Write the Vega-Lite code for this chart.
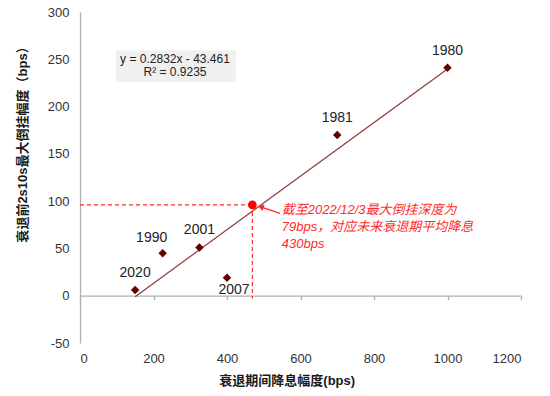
{
  "$schema": "https://vega.github.io/schema/vega-lite/v6.json",
  "width": 441,
  "height": 331,
  "autosize": {"type": "none"},
  "padding": {"left": 80, "top": 12, "right": 29, "bottom": 53},
  "background": "white",
  "config": {
    "view": {"stroke": null},
    "font": "Liberation Sans, Noto Sans CJK SC, sans-serif"
  },
  "datasets": {
    "recessions": [
      {"year": "2020", "cut": 150, "inversion": 6},
      {"year": "1990", "cut": 225, "inversion": 45},
      {"year": "2001", "cut": 325, "inversion": 51},
      {"year": "2007", "cut": 400, "inversion": 19},
      {"year": "1981", "cut": 700, "inversion": 170},
      {"year": "1980", "cut": 1000, "inversion": 241}
    ],
    "current": [{"cut": 469, "inversion": 96}],
    "trend": [{"cut": 150, "inversion": -1.0}, {"cut": 1000, "inversion": 239.7}],
    "guides": [
      {"cut": 0, "cut2": 469, "inversion": 96, "inversion2": 96},
      {"cut": 469, "cut2": 469, "inversion": 96, "inversion2": -3}
    ],
    "arrow": [{"cut": 544, "cut2": 492, "inversion": 87, "inversion2": 94}],
    "arrowhead": [{"cut": 492, "inversion": 94}],
    "eqbox": [{"cut": 98, "cut2": 424, "inversion": 226, "inversion2": 259.4}],
    "eqtext": [
      {"cut": 258.5, "inversion": 250.3, "label": "y = 0.2832x - 43.461"},
      {"cut": 258.5, "inversion": 236.2, "label": "R² = 0.9235"}
    ],
    "note": [{"cut": 549, "inversion": 96.5, "label": "截至2022/12/3最大倒挂深度为\n79bps，对应未来衰退期平均降息\n430bps"}]
  },
  "encoding": {
    "x": {"field": "cut", "type": "quantitative", "scale": {"domain": [0, 1200], "nice": false, "zero": false}, "axis": null},
    "y": {
      "field": "inversion", "type": "quantitative",
      "scale": {"domain": [-50, 300], "nice": false, "zero": false},
      "axis": {
        "values": [-50, 0, 50, 100, 150, 200, 250, 300],
        "labelExpr": "'' + datum.value",
        "grid": false, "ticks": false, "tickSize": 0,
        "domain": true, "domainColor": "#b0b0b0", "domainWidth": 1.3,
        "labelFontSize": 13, "labelColor": "#333333", "labelPadding": 11, "labelFont": "Liberation Sans",
        "title": "衰退前2s10s最大倒挂幅度（bps）",
        "titleFontSize": 13, "titleFontWeight": "bold", "titleColor": "#1a1a1a",
        "titleX": -58, "titleY": 129, "titleAngle": -90, "titleAlign": "center", "titleBaseline": "middle"
      }
    }
  },
  "resolve": {"axis": {"x": "independent"}},
  "layer": [
    {
      "data": {"name": "eqbox"},
      "mark": {"type": "rect", "fill": "#f0f0f0"},
      "encoding": {
        "x2": {"field": "cut2"},
        "y2": {"field": "inversion2"}
      }
    },
    {
      "data": {"name": "eqtext"},
      "mark": {"type": "text", "fontSize": 12, "color": "#222222", "align": "center", "baseline": "middle", "font": "Liberation Sans"},
      "encoding": {"text": {"field": "label"}}
    },
    {
      "data": {"name": "trend"},
      "mark": {"type": "line", "color": "#8b3a3a", "strokeWidth": 1.2},
      "encoding": {
        "x": {
          "field": "cut", "type": "quantitative",
          "scale": {"domain": [0, 1200], "nice": false, "zero": false},
          "axis": {
            "orient": "bottom", "offset": -47.29,
            "values": [0, 200, 400, 600, 800, 1000, 1200],
            "labels": false, "grid": false, "title": null,
            "domain": true, "domainColor": "#b0b0b0", "domainWidth": 1.3,
            "ticks": true, "tickSize": 4, "tickColor": "#b0b0b0", "tickWidth": 1.3
          }
        }
      }
    },
    {
      "data": {"name": "guides"},
      "mark": {"type": "rule", "color": "#ff2a2a", "strokeDash": [4, 3], "strokeWidth": 1.2},
      "encoding": {
        "x2": {"field": "cut2"},
        "y2": {"field": "inversion2"}
      }
    },
    {
      "data": {"name": "arrow"},
      "mark": {"type": "rule", "color": "#ff2a2a", "strokeWidth": 1.2},
      "encoding": {
        "x2": {"field": "cut2"},
        "y2": {"field": "inversion2"}
      }
    },
    {
      "data": {"name": "arrowhead"},
      "mark": {"type": "point", "shape": "triangle-left", "angle": 18, "size": 45, "filled": true, "color": "#ff2a2a", "opacity": 1}
    },
    {
      "data": {"name": "recessions"},
      "mark": {"type": "point", "shape": "diamond", "size": 72, "filled": true, "color": "#660000", "opacity": 1},
      "encoding": {
        "x": {
          "field": "cut", "type": "quantitative",
          "scale": {"domain": [0, 1200], "nice": false, "zero": false},
          "axis": {
            "orient": "bottom",
            "values": [0, 200, 400, 600, 800, 1000, 1200],
            "labelExpr": "'' + datum.value",
            "domain": false, "ticks": false, "tickSize": 0, "grid": false,
            "labelFontSize": 13, "labelColor": "#333333", "labelPadding": 9, "labelFont": "Liberation Sans",
            "title": "衰退期间降息幅度(bps)",
            "titleFontSize": 13, "titleFontWeight": "bold", "titleColor": "#1a1a1a",
            "titleX": 206.7, "titleY": 37, "titleAlign": "center", "titleBaseline": "middle"
          }
        }
      }
    },
    {
      "data": {"name": "current"},
      "mark": {"type": "point", "shape": "circle", "size": 75, "filled": true, "color": "#ff0000", "opacity": 1}
    },
    {
      "data": {"name": "recessions"},
      "transform": [{"filter": "datum.year == '2020' || datum.year == '2001' || datum.year == '1981' || datum.year == '1980'"}],
      "mark": {"type": "text", "fontSize": 14, "color": "#222222", "align": "center", "baseline": "middle", "dy": -17, "font": "Liberation Sans"},
      "encoding": {"text": {"field": "year"}}
    },
    {
      "data": {"name": "recessions"},
      "transform": [{"filter": "datum.year == '1990'"}],
      "mark": {"type": "text", "fontSize": 14, "color": "#222222", "align": "center", "baseline": "middle", "dx": -11, "dy": -15, "font": "Liberation Sans"},
      "encoding": {"text": {"field": "year"}}
    },
    {
      "data": {"name": "recessions"},
      "transform": [{"filter": "datum.year == '2007'"}],
      "mark": {"type": "text", "fontSize": 14, "color": "#222222", "align": "center", "baseline": "middle", "dx": 7, "dy": 12, "font": "Liberation Sans"},
      "encoding": {"text": {"field": "year"}}
    },
    {
      "data": {"name": "note"},
      "mark": {"type": "text", "fontSize": 13, "fontStyle": "italic", "color": "#ff2a2a", "align": "left", "baseline": "top", "lineBreak": "\n", "lineHeight": 16.7},
      "encoding": {"text": {"field": "label"}}
    }
  ]
}
